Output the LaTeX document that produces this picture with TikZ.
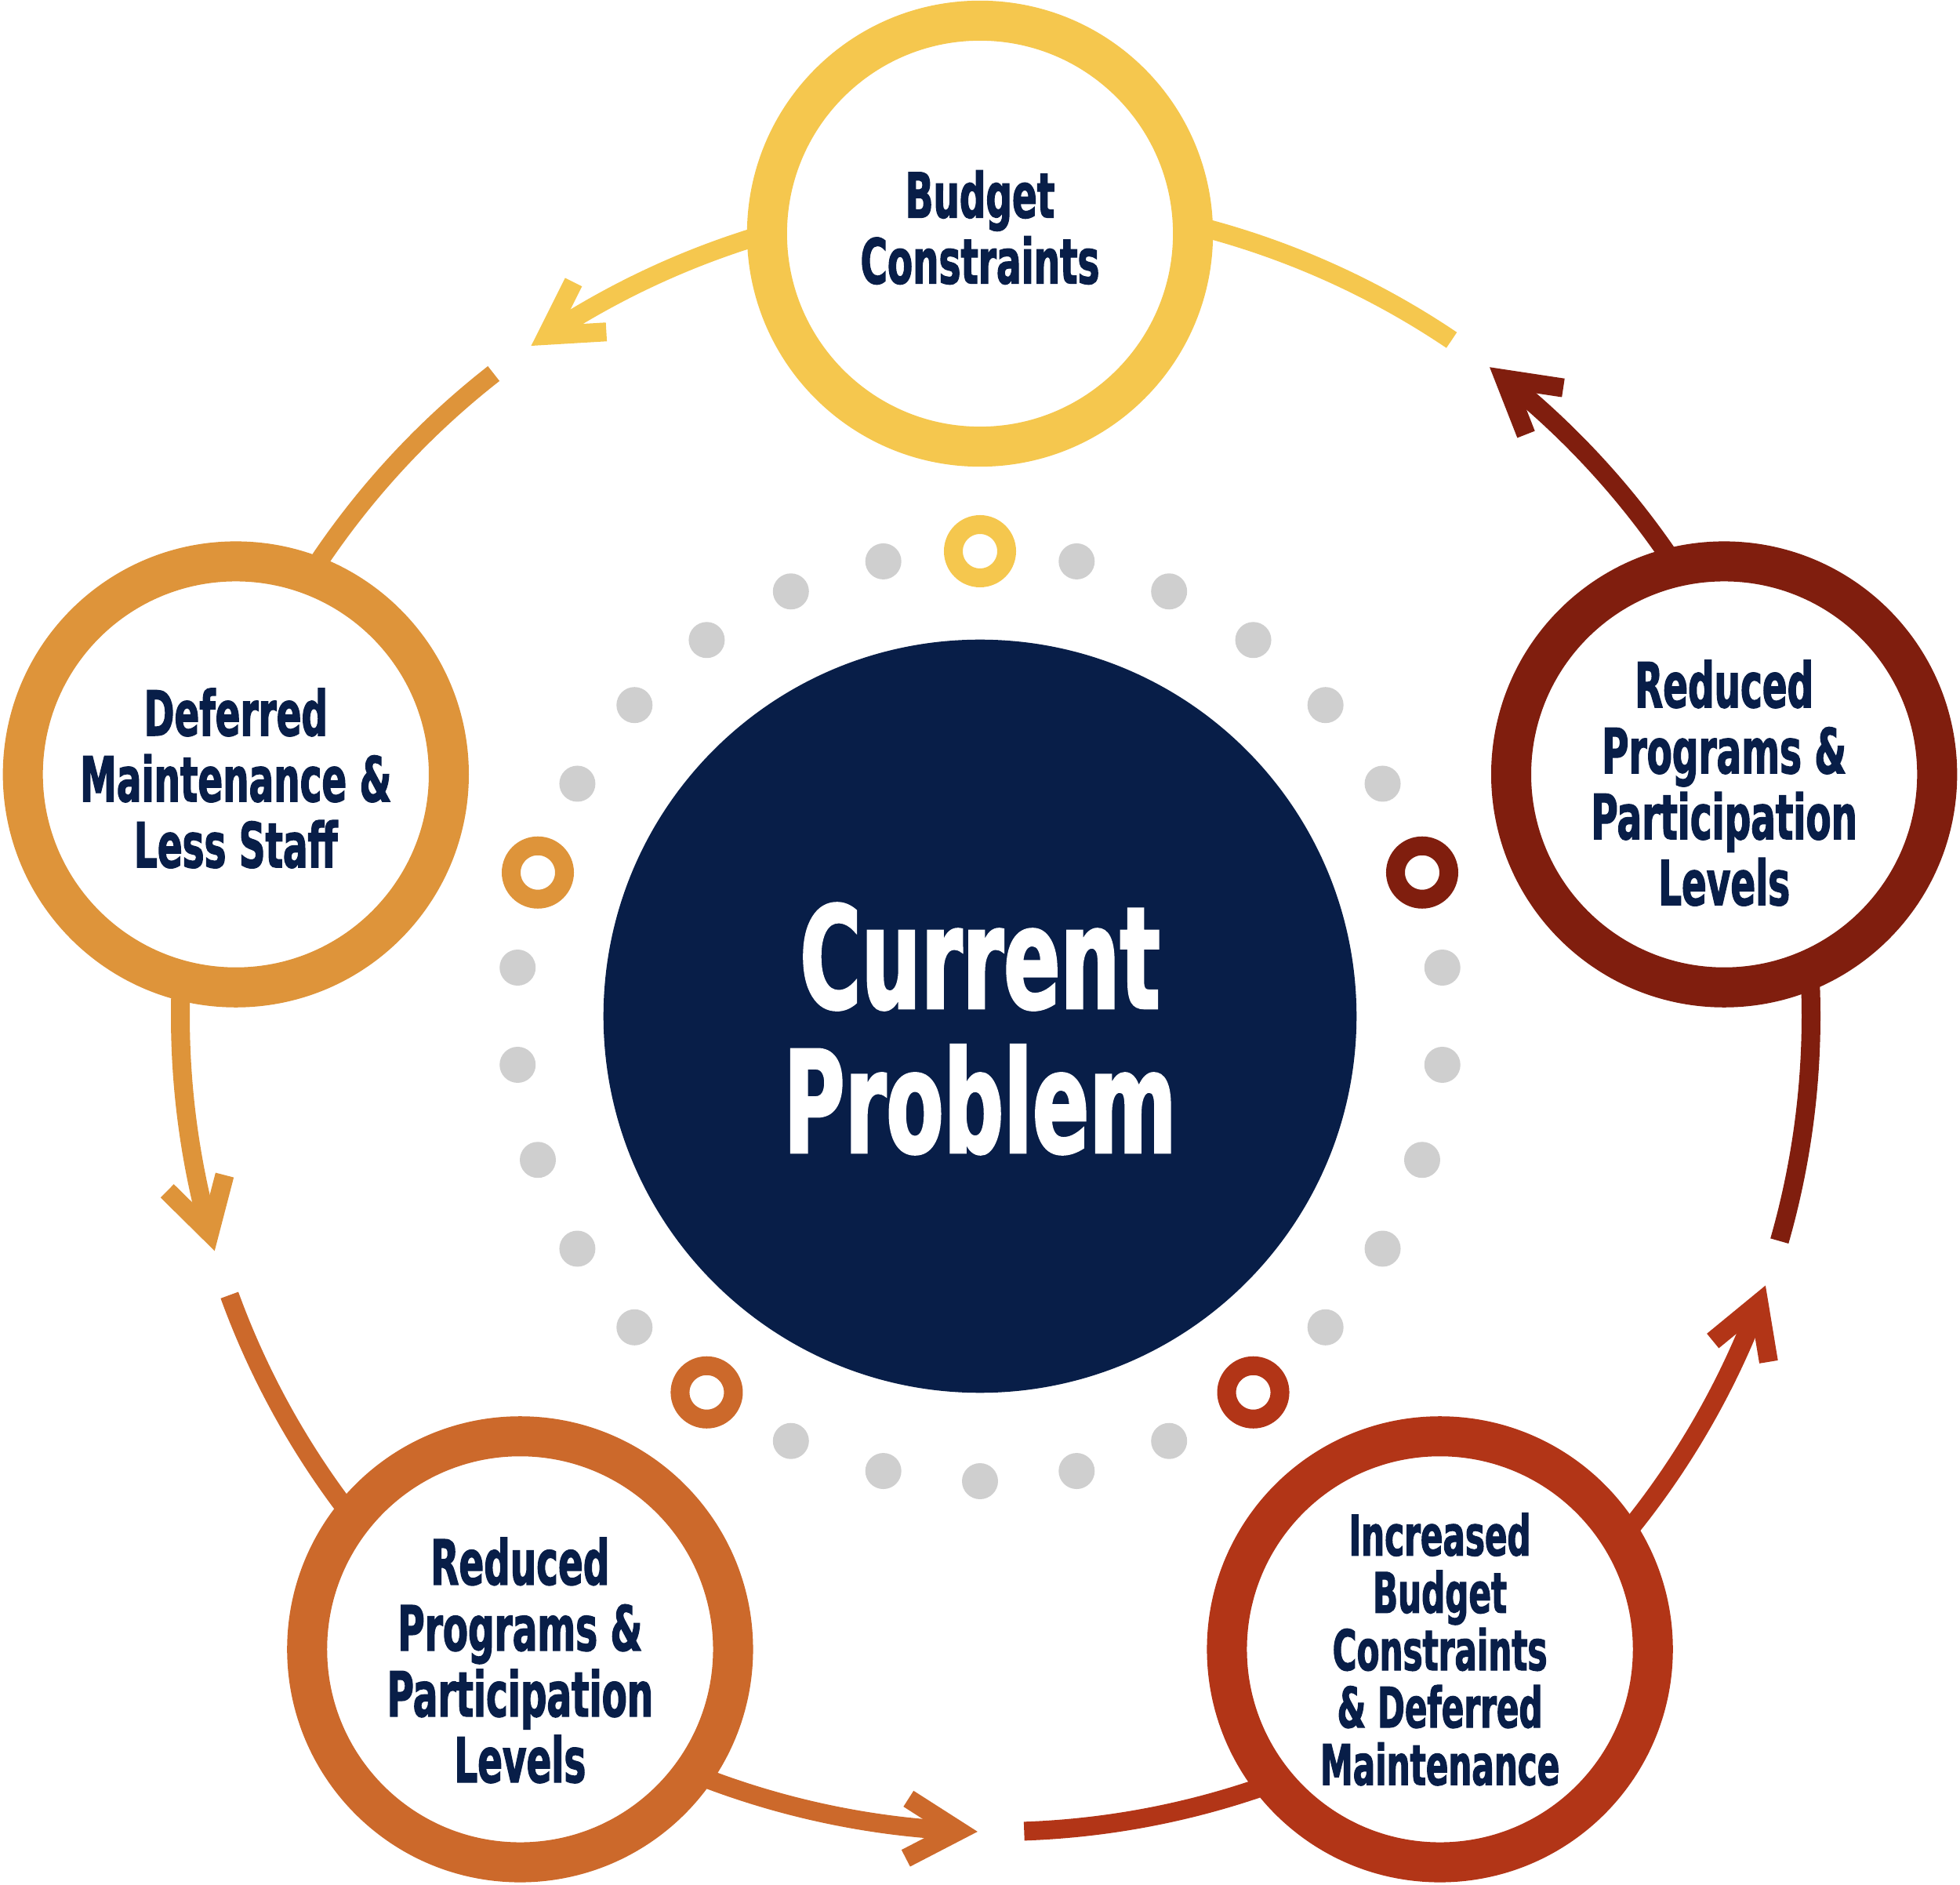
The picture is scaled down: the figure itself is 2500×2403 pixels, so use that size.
\documentclass[tikz,border=0pt]{standalone}
\usepackage{fontspec}
\usetikzlibrary{calc}
\newfontfamily\antonfont{DejaVu Sans}[FakeStretch=0.59, FakeBold=1.5]
\definecolor{navyC}{HTML}{081E48}
\definecolor{yellowC}{HTML}{F5C74E}
\definecolor{deferredC}{HTML}{DE943A}
\definecolor{orangeC}{HTML}{CC692B}
\definecolor{redC}{HTML}{B23517}
\definecolor{maroonC}{HTML}{801E0E}
\definecolor{dotC}{HTML}{CFCFCF}

\begin{document}
\begin{tikzpicture}[x=0.01cm, y=0.01cm,
    stage/.style={circle, draw=#1, line width=0.51cm, fill=white, minimum size=5.43cm, inner sep=0pt},
    txt/.style={align=center, text=navyC, font=\antonfont\bfseries\fontsize{22.6}{23.9}\selectfont},
    core/.style={circle, fill=navyC, minimum size=9.6cm, inner sep=0pt},
    coretxt/.style={align=center, text=white, font=\antonfont\bfseries\fontsize{51.5}{52.3}\selectfont},
    flow/.style={line width=0.24cm},
    chev/.style={line width=0.24cm, line join=miter},
    hole/.style={line width=0.24cm, fill=white}]
    \useasboundingbox (-1250,-1107) rectangle (1250,1296);

    % střed
    \node[core] (ctr) at (0,0) {};
    \node[coretxt] (ctrTxt) at ([yshift=-0.16cm]ctr.center) {Current\\Problem};
    \coordinate (hub) at ([xshift=0.2cm]ctr.center);

    % tečky kolem středu
    \foreach \i in {0,...,4}
        \foreach \j in {1,...,5}
            \fill[dotC] ($(ctr)+(90+72*\i+12*\j:593)$) circle[radius=23];
    \foreach \a/\c in {90/yellowC, 162/deferredC, 234/orangeC, 306/redC, 18/maroonC}
        \draw[hole, draw=\c] ($(ctr)+(\a:593)$) circle[radius=34];

    % šipky mezi kruhy
    \foreach \a/\ca/\cb in {90/yellowC/deferredC, 162/deferredC/orangeC, 234/orangeC/redC,
                            306/redC/maroonC, 18/maroonC/yellowC} {
        \draw[flow, color=\ca] ($(hub)+(\a+10:1040)$) arc[start angle=\a+10, end angle=\a+32.8, radius=1040];
        \draw[chev, color=\ca] ($(hub)+(\a+33.4:1040)+(\a-26.6:76)$) -- ($(hub)+(\a+33.4:1040)$) -- ++(\a-86.6:76);
        \draw[flow, color=\cb] ($(hub)+(\a+38:1040)$) arc[start angle=\a+38, end angle=\a+62, radius=1040];
    }

    % kruhy
    \node[stage=yellowC] (budget) at (90:998) {};
    \node[stage=deferredC] (deferred) at (162:998) {};
    \node[stage=orangeC] (programsL) at (234:998) {};
    \node[stage=redC] (increased) at (306:998) {};
    \node[stage=maroonC] (programsR) at (18:998) {};

    % popisky
    \node[txt] (budgetTxt) at ([yshift=0.08cm]budget.center) {Budget\\Constraints};
    \node[txt] (deferredTxt) at ([yshift=-0.05cm]deferred.center) {Deferred\\Maintenance \&\\Less Staff};
    \node[txt] (programsLTxt) at ([yshift=-0.14cm]programsL.center) {Reduced\\Programs \&\\Participation\\Levels};
    \node[txt, font=\antonfont\bfseries\fontsize{20.3}{20.8}\selectfont] (increasedTxt) at (increased.center)
        {Increased\\Budget\\Constraints\\\& Deferred\\Maintenance};
    \node[txt] (programsRTxt) at ([yshift=-0.11cm]programsR.center) {Reduced\\Programs \&\\Participation\\Levels};
\end{tikzpicture}
\end{document}
